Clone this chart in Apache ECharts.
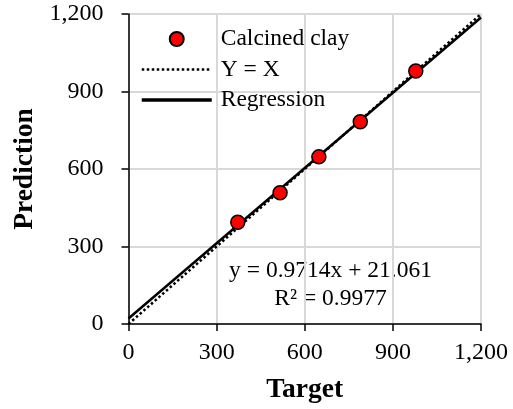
<!DOCTYPE html>
<html>
<head>
<meta charset="utf-8">
<script src="https://cdn.jsdelivr.net/npm/echarts@6/dist/echarts.min.js"></script>
<style>
  html, body { margin: 0; padding: 0; background: #fff; }
  #chart { width: 513px; height: 409px; }
</style>
</head>
<body>
<div id="chart"></div>
<script>
// Measured vs predicted values for the calcined clay mixes
const targetValues = [372, 516, 648, 789, 978];
const predictionValues = [394, 508, 647, 783, 979];

// Least-squares fit reported on the chart
const fitSlope = 0.9714;
const fitIntercept = 21.061;
const fitR2 = 0.9977;

const axisTicks = [0, 300, 600, 900, 1200];
const lineRange = [0, 1200];

const fmt = v => v.toLocaleString('en-US');

const identityLine = lineRange.map(x => [x, x]);
const regressionLine = lineRange.map(x => [x, fitSlope * x + fitIntercept]);
const points = targetValues.map((x, i) => [x, predictionValues[i]]);

const FONT = '"Liberation Serif", "Times New Roman", serif';

const axisCommon = {
  type: 'value',
  min: axisTicks[0],
  max: axisTicks[axisTicks.length - 1],
  interval: axisTicks[1] - axisTicks[0],
  nameLocation: 'middle',
  nameTextStyle: { fontFamily: FONT, fontSize: 27.5, fontWeight: 'bold', color: '#000' },
  axisLine: { show: true, onZero: false, lineStyle: { color: '#000', width: 1.5 } },
  axisTick: { show: true, length: 7, inside: false, lineStyle: { color: '#000', width: 1.5 } },
  splitLine: { show: true, lineStyle: { color: '#d9d9d9', width: 2 } },
  axisLabel: { fontFamily: FONT, fontSize: 24, color: '#000', formatter: fmt }
};

const chart = echarts.init(document.getElementById('chart'), null, { renderer: 'canvas' });

chart.setOption({
  animation: false,
  backgroundColor: '#fff',
  grid: { left: 128.5, right: 32, top: 14, bottom: 82, containLabel: false },
  xAxis: Object.assign({}, axisCommon, {
    name: 'Target',
    nameGap: 52,
    axisLabel: Object.assign({}, axisCommon.axisLabel, { margin: 17 })
  }),
  yAxis: Object.assign({}, axisCommon, {
    name: 'Prediction',
    nameGap: 88,
    axisLabel: Object.assign({}, axisCommon.axisLabel, { margin: 25 })
  }),
  legend: {
    orient: 'vertical',
    left: 140,
    top: 27,
    itemWidth: 70,
    itemHeight: 14,
    itemGap: 6.5,
    padding: 0,
    textStyle: { fontFamily: FONT, fontSize: 23.5, color: '#000', lineHeight: 24, padding: [0, 0, 0, 4] },
    data: [
      { name: 'Calcined clay', icon: 'circle' },
      { name: 'Y = X', itemStyle: { opacity: 0 }, lineStyle: { width: 2.5 } },
      { name: 'Regression', itemStyle: { opacity: 0 }, lineStyle: { width: 3.5 } }
    ]
  },
  series: [
    {
      name: 'Y = X',
      type: 'line',
      data: identityLine,
      symbol: 'none',
      lineStyle: { color: '#000', width: 2.5, type: [2.5, 2.5] },
      itemStyle: { color: '#000' },
      z: 2
    },
    {
      name: 'Regression',
      type: 'line',
      data: regressionLine,
      symbol: 'none',
      lineStyle: { color: '#000', width: 2.5 },
      itemStyle: { color: '#000' },
      z: 3
    },
    {
      name: 'Calcined clay',
      type: 'scatter',
      data: points,
      symbol: 'circle',
      symbolSize: 14,
      itemStyle: { color: '#ff0000', borderColor: '#000', borderWidth: 1.5, opacity: 1 },
      z: 4
    }
  ],
  graphic: [
    {
      type: 'text',
      style: {
        text: 'y = ' + fitSlope + 'x + ' + fitIntercept,
        x: 330.5, y: 271,
        fontFamily: FONT, fontSize: 23.5, fill: '#000',
        align: 'center', verticalAlign: 'middle'
      }
    },
    {
      type: 'text',
      style: {
        text: 'R\u00B2 = ' + fitR2,
        x: 330.5, y: 298.5,
        fontFamily: FONT, fontSize: 23.5, fill: '#000',
        align: 'center', verticalAlign: 'middle'
      }
    }
  ]
});
</script>
</body>
</html>
